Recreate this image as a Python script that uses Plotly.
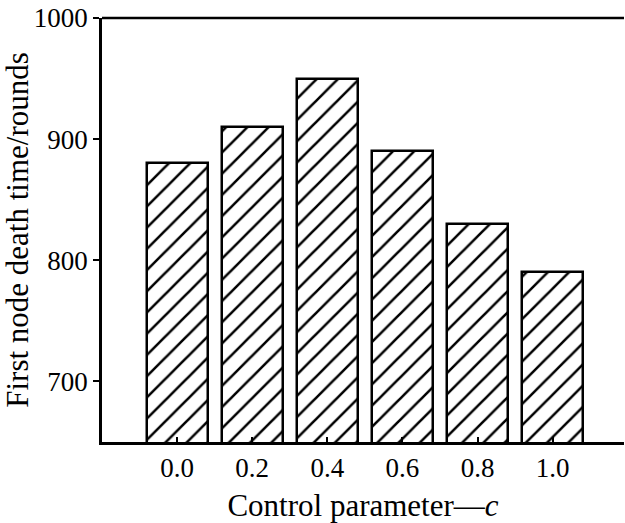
import plotly.graph_objects as go

c_values = [0.0, 0.2, 0.4, 0.6, 0.8, 1.0]
tick_labels = ["0.0", "0.2", "0.4", "0.6", "0.8", "1.0"]
first_death = [880, 910, 950, 890, 830, 790]

FONT = "Liberation Serif, Times New Roman, serif"

fig = go.Figure()
fig.add_trace(go.Bar(
    x=c_values, y=first_death, width=0.162,
    base=0,
    marker=dict(color="white",
                line=dict(color="black", width=2.5),
                pattern=dict(shape="/", fgcolor="black", bgcolor="white",
                             size=15, solidity=0.17, fgopacity=1,
                             fillmode="replace")),
))

fig.update_layout(
    width=625, height=523,
    margin=dict(l=102, r=1, t=18, b=81),
    paper_bgcolor="white", plot_bgcolor="white",
    font=dict(family=FONT, size=27, color="black"),
    showlegend=False,
    bargap=0,
    xaxis=dict(range=[-0.2, 1.19], tickvals=c_values, ticktext=tick_labels,
               ticks="inside", ticklen=5, tickwidth=2, tickcolor="black",
               showline=True, linecolor="black", linewidth=2.5,
               showgrid=False, zeroline=False,
               title=dict(text="Control parameter—<i>c</i>", font=dict(size=31), standoff=13)),
    yaxis=dict(range=[650, 1000], tickvals=[700, 800, 900, 1000],
               ticks="outside", ticklen=6, tickwidth=2, tickcolor="black",
               showline=True, linecolor="black", linewidth=2.5,
               showgrid=False, zeroline=False,
               title=dict(text="First node death time/rounds", font=dict(size=31), standoff=9)),
    shapes=[dict(type="line", xref="paper", yref="paper", x0=0, x1=1, y0=1, y1=1,
                 line=dict(color="black", width=2.5))],
)

fig.write_html("out.html")
